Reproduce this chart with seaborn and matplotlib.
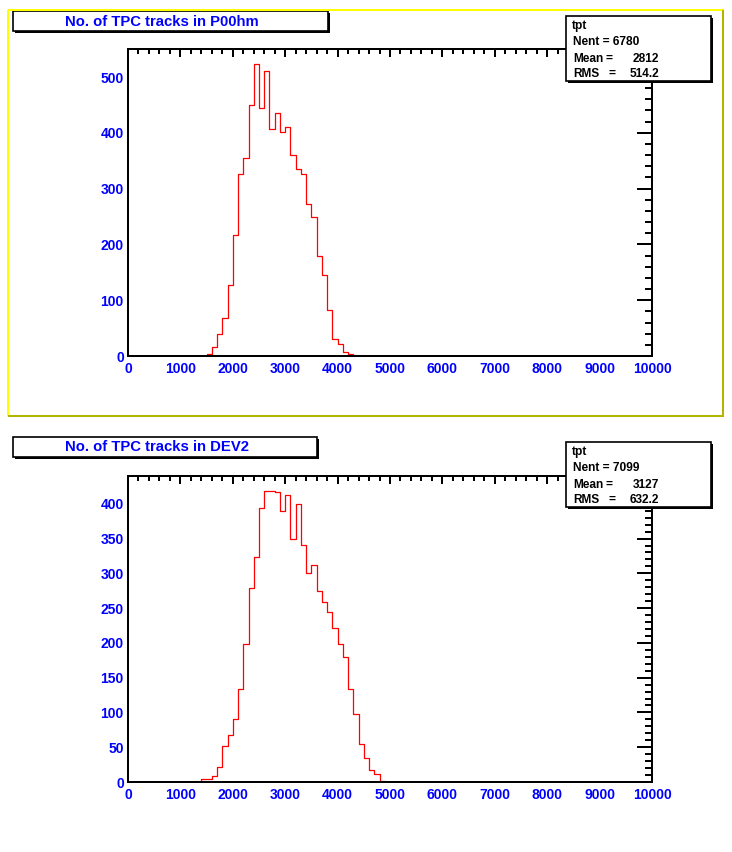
"""
TPC track multiplicity, P00hm vs DEV2 (ROOT-style histogram pages).
"""

import numpy as np
import pandas as pd
import matplotlib
matplotlib.use("Agg")
import matplotlib.pyplot as plt
from matplotlib.patches import Rectangle
from matplotlib.lines import Line2D
from matplotlib.ticker import MultipleLocator
import seaborn as sns

# ──────────────────────────────────────────────────────────
#  Data: entries per 100-track bin
# ──────────────────────────────────────────────────────────
X_RANGE = (0, 10000)
BIN_WIDTH = 100

P00HM_FIRST_BIN = 1500
P00HM_COUNTS = [3, 16, 40, 68, 127, 217, 326, 355, 449, 524,
                445, 511, 407, 436, 402, 411, 360, 336, 326, 273,
                249, 179, 146, 83, 30, 22, 8, 3]
P00HM_TITLE = "No. of TPC tracks in P00hm"
P00HM_STATS = ["tpt", "Nent = 6780", ("Mean", "2812"), ("RMS", "514.2")]

DEV2_FIRST_BIN = 1400
DEV2_COUNTS = [4, 4, 8, 21, 52, 68, 90, 134, 198, 279,
               324, 394, 419, 419, 417, 390, 413, 350, 400, 341,
               301, 312, 275, 259, 245, 222, 199, 179, 133, 98,
               54, 34, 17, 11, 2]
DEV2_TITLE = "No. of TPC tracks in DEV2"
DEV2_STATS = ["tpt", "Nent = 7099", ("Mean", "3127"), ("RMS", "632.2")]

W, H = 732, 852
BLUE = "#0000ff"
PT = 72 / 100  # points per pixel at dpi 100

sns.set_style("white")
plt.rcParams["font.family"] = ["Liberation Sans", "DejaVu Sans"]


def fx(x):
    return x / W


def fy(y):
    return 1 - y / H


def shadow_box(fig, x0, y0, x1, y1, shadow=2):
    """White pave with black frame and a drop shadow, ROOT style (pixel coords)."""
    fig.add_artist(Rectangle((fx(x0 + shadow), fy(y1 + shadow)),
                             (x1 - x0) / W, (y1 - y0) / H,
                             transform=fig.transFigure, facecolor="black",
                             edgecolor="black", lw=0, zorder=5))
    fig.add_artist(Rectangle((fx(x0), fy(y1)), (x1 - x0) / W, (y1 - y0) / H,
                             transform=fig.transFigure, facecolor="white",
                             edgecolor="black", lw=1.2, zorder=6))


def draw_panel(fig, frame, first_bin, counts, y_major, y_minor,
               title, title_box, stats, stats_box):
    left, top, right, bottom = frame
    ax = fig.add_axes([fx(left), fy(bottom), (right - left) / W, (bottom - top) / H])

    hist = pd.DataFrame({
        "tracks":  first_bin + BIN_WIDTH / 2 + BIN_WIDTH * np.arange(len(counts)),
        "entries": counts,
    })
    sns.histplot(data=hist, x="tracks", weights="entries",
                 binwidth=BIN_WIDTH, binrange=X_RANGE,
                 element="step", fill=False, color="red", linewidth=0.9, ax=ax)

    ax.set_xlim(*X_RANGE)
    ax.set_ylim(0, 1.05 * max(counts))
    ax.set_xlabel("")
    ax.set_ylabel("")
    ax.xaxis.set_major_locator(MultipleLocator(1000))
    ax.xaxis.set_minor_locator(MultipleLocator(200))
    ax.yaxis.set_major_locator(MultipleLocator(y_major))
    ax.yaxis.set_minor_locator(MultipleLocator(y_minor))

    for sp in ax.spines.values():
        sp.set_linewidth(2 * PT)
        sp.set_color("black")
        sp.set_zorder(3)

    ax.tick_params(which="both", direction="in", top=True, right=True,
                   width=2 * PT, color="black", labelcolor=BLUE)
    ax.tick_params(axis="x", which="major", length=8 * PT, pad=4)
    ax.tick_params(axis="x", which="minor", length=4.5 * PT)
    ax.tick_params(axis="y", which="major", length=15 * PT, pad=3)
    ax.tick_params(axis="y", which="minor", length=7.5 * PT)
    for lab in ax.get_xticklabels() + ax.get_yticklabels():
        lab.set_fontsize(10)
        lab.set_fontweight("bold")

    # title pave
    tx0, ty0, tx1, ty1 = title_box
    shadow_box(fig, tx0, ty0, tx1, ty1)
    fig.text(fx(65), fy((ty0 + ty1) / 2 + 0.5), title, color=BLUE, fontsize=10.7,
             fontweight="bold", ha="left", va="center", zorder=7)

    # statistics pave
    sx0, sy0, sx1, sy1 = stats_box
    shadow_box(fig, sx0, sy0, sx1, sy1)
    row_y = [sy0 + 10, sy0 + 26, sy0 + 43, sy0 + 58]
    kw = dict(color="black", fontsize=8.6, fontweight="bold", va="center", zorder=7)
    fig.text(fx(sx0 + 6), fy(row_y[0]), stats[0], ha="left", **kw)
    fig.text(fx(sx0 + 7), fy(row_y[1]), stats[1], ha="left", **kw)
    for (name, value), yy, eq_x in zip(stats[2:], row_y[2:], [609, 612]):
        fig.text(fx(sx0 + 7), fy(yy), name, ha="left", **kw)
        fig.text(fx(eq_x), fy(yy), "=", ha="center", **kw)
        fig.text(fx(659), fy(yy), value, ha="right", **kw)
    return ax


fig = plt.figure(figsize=(W / 100, H / 100), dpi=100)
fig.patch.set_facecolor("white")

# active pad frame (yellow bevel)
pad = dict(transform=fig.transFigure, lw=2 * PT, solid_capstyle="butt", zorder=8)
fig.add_artist(Line2D([fx(8), fx(724)], [fy(10), fy(10)], color="#ffff00", **pad))
fig.add_artist(Line2D([fx(8), fx(8)], [fy(10), fy(416)], color="#ffff00", **pad))
fig.add_artist(Line2D([fx(8), fx(724)], [fy(416), fy(416)], color="#b4b400", **pad))
fig.add_artist(Line2D([fx(723), fx(723)], [fy(10), fy(416)], color="#b4b400", **pad))

draw_panel(fig, (128, 49, 652, 356), P00HM_FIRST_BIN, P00HM_COUNTS, 100, 20,
           P00HM_TITLE, (13, 11, 328, 31), P00HM_STATS, (566, 16, 711, 81))
draw_panel(fig, (128, 476, 652, 782), DEV2_FIRST_BIN, DEV2_COUNTS, 50, 10,
           DEV2_TITLE, (13, 437, 317, 457), DEV2_STATS, (566, 442, 711, 507))

fig.savefig("out.png", dpi=100)
plt.close(fig)
